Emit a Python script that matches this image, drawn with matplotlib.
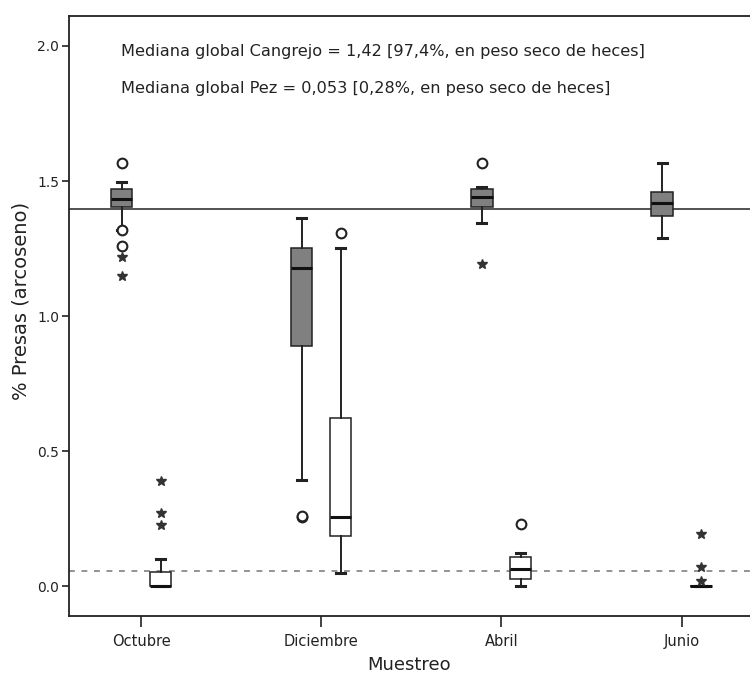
import numpy as np
import matplotlib.pyplot as plt

# datos (arcoseno de la proporcion)
meses = ['Octubre', 'Diciembre', 'Abril', 'Junio']

# Cangrejo (cajas grises)
cang_q1 = [1.404, 0.889, 1.404, 1.370]
cang_med = [1.433, 1.178, 1.440, 1.419]
cang_q3 = [1.470, 1.252, 1.470, 1.459]
cang_lo = [1.318, 0.393, 1.344, 1.289]
cang_hi = [1.496, 1.363, 1.478, 1.567]
cang_circ = [[1.567, 1.318, 1.259], [0.256, 0.262], [1.567], []]
cang_star = [[1.219, 1.148], [], [1.193], []]

# Pez (cajas blancas)
pez_q1 = [0.0, 0.185, 0.026, 0.0]
pez_med = [0.003, 0.256, 0.063, 0.0]
pez_q3 = [0.052, 0.622, 0.107, 0.0]
pez_lo = [0.0, 0.048, 0.0, 0.0]
pez_hi = [0.100, 1.252, 0.122, 0.0]
pez_circ = [[], [1.307], [0.230], []]
pez_star = [[0.389, 0.270, 0.226], [], [], [0.193, 0.070, 0.019]]

mediana_cang = 1.396
mediana_pez = 0.058

fig = plt.figure(figsize=(7.5, 6.78), dpi=100)
ax = fig.add_axes([0.092, 0.0914, 0.908, 0.8846])

pos = np.arange(1, len(meses) + 1)
off = 0.108
w = 0.118


def cajas(q1, med, q3, lo, hi, x, color):
    stats = []
    for i in range(len(q1)):
        stats.append({'q1': q1[i], 'med': med[i], 'q3': q3[i],
                      'whislo': lo[i], 'whishi': hi[i], 'fliers': []})
    ax.bxp(stats, positions=x, widths=w, patch_artist=True, showfliers=False,
           capwidths=0.05,
           boxprops=dict(facecolor=color, edgecolor='#222222', linewidth=1.1),
           medianprops=dict(color='#111111', linewidth=2.2),
           whiskerprops=dict(color='#222222', linewidth=1.4),
           capprops=dict(color='#222222', linewidth=2.2),
           manage_ticks=False, zorder=3)


def atipicos(circ, star, x):
    for i in range(len(circ)):
        ax.plot([x[i]] * len(circ[i]), circ[i], 'o', ms=7, mfc='white',
                mec='#222222', mew=1.5, zorder=4)
        ax.plot([x[i]] * len(star[i]), star[i], '*', ms=7, color='#333333',
                zorder=4)


ax.axhline(mediana_cang, color='#444444', lw=1.3, zorder=2)
ax.axhline(mediana_pez, color='#808080', lw=1.2, ls=(0, (3.5, 4)), zorder=2)

cajas(cang_q1, cang_med, cang_q3, cang_lo, cang_hi, pos - off, '#808080')
cajas(pez_q1, pez_med, pez_q3, pez_lo, pez_hi, pos + off, 'white')
atipicos(cang_circ, cang_star, pos - off)
atipicos(pez_circ, pez_star, pos + off)

ax.text(0.89, 1.978, 'Mediana global Cangrejo = 1,42 [97,4%, en peso seco de heces]',
        fontsize=11.6, color='#222222', va='center')
ax.text(0.89, 1.844, 'Mediana global Pez = 0,053 [0,28%, en peso seco de heces]',
        fontsize=11.6, color='#222222', va='center')

ax.set_xlim(0.6, 4.38)
ax.set_ylim(-0.11, 2.11)
ax.set_xticks(pos)
ax.set_xticklabels(meses)
ax.set_yticks([0.0, 0.5, 1.0, 1.5, 2.0])
ax.set_yticklabels(['0.0', '0.5', '1.0', '1.5', '2.0'])
ax.tick_params(axis='x', length=8, width=1.2, labelsize=10.5, pad=5, colors='#222222')
ax.tick_params(axis='y', length=5, width=1.2, labelsize=10, pad=2, colors='#222222')
ax.set_xlabel('Muestreo', fontsize=13, color='#222222', labelpad=5)
ax.set_ylabel('% Presas (arcoseno)', fontsize=14, color='#222222')
ax.yaxis.set_label_coords(-0.056, 0.525)

for s in ['left', 'bottom', 'top']:
    ax.spines[s].set_linewidth(1.3)
    ax.spines[s].set_color('#222222')
ax.spines['right'].set_visible(False)

fig.savefig('out.png', dpi=100)
